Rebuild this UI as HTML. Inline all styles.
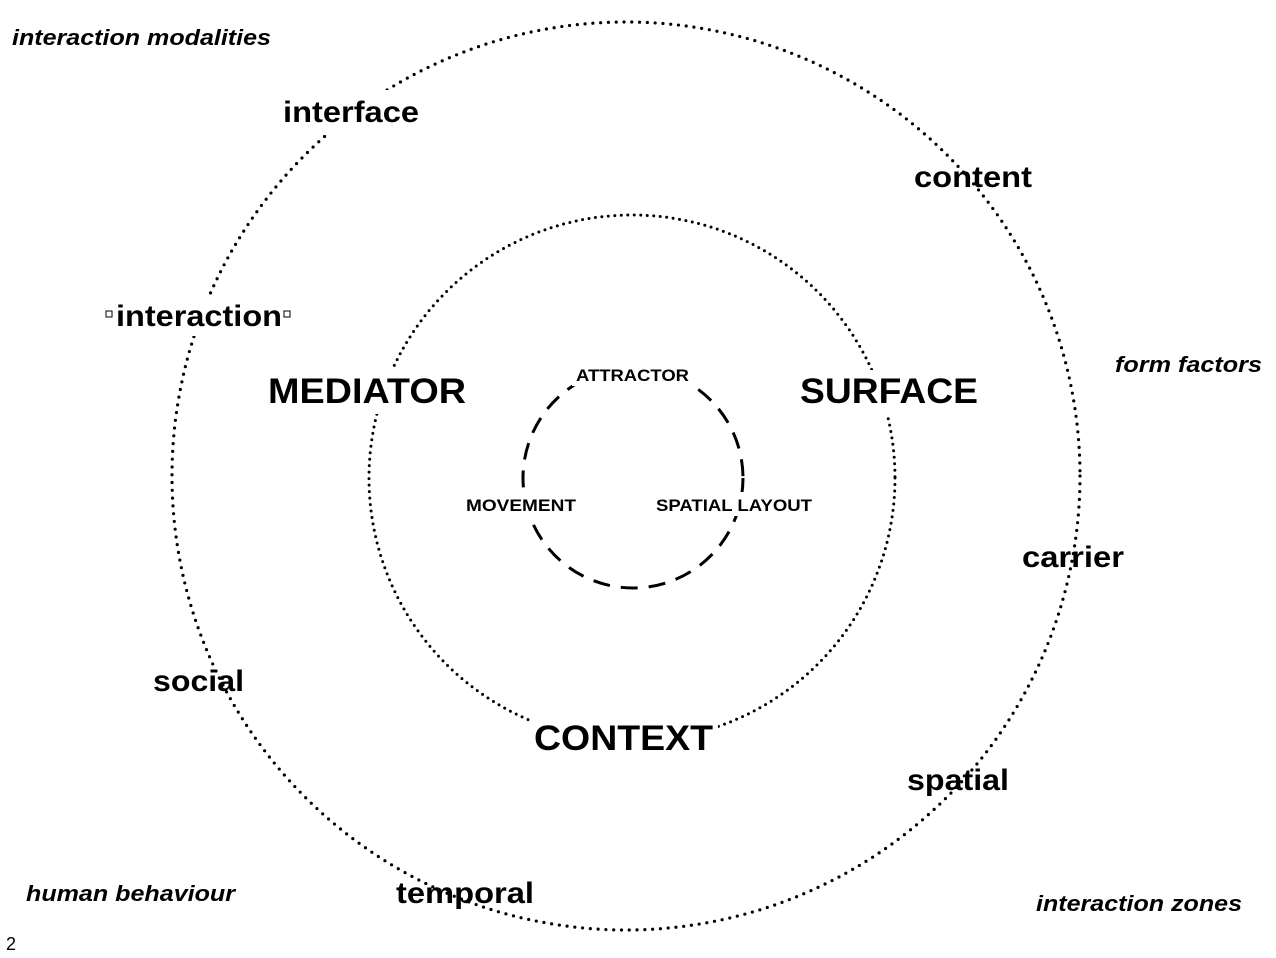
<!DOCTYPE html>
<html><head><style>
body{margin:0;background:#fff;}
svg{display:block;}
text{font-family:"Liberation Sans",Arial,sans-serif;font-weight:bold;fill:#000;}
</style></head><body>
<svg width="1276" height="958" viewBox="0 0 1276 958">
<circle cx="626" cy="476" r="454" fill="none" stroke="#000" stroke-width="3.2" stroke-linecap="round" stroke-dasharray="0 7.8"/>
<circle cx="632" cy="478" r="263" fill="none" stroke="#000" stroke-width="3" stroke-linecap="round" stroke-dasharray="0 6.5"/>
<circle cx="633" cy="478" r="110" fill="none" stroke="#000" stroke-width="3" stroke-dasharray="17 11"/>
<g fill="#fff">
<rect x="280" y="90" width="145" height="45"/>
<rect x="112" y="296" width="172" height="40"/>
<rect x="265" y="370" width="205" height="44"/>
<rect x="797" y="370" width="185" height="44"/>
<rect x="530" y="716" width="188" height="44"/>
<rect x="572" y="362" width="122" height="24"/>
<rect x="462" y="492" width="118" height="24"/>
<rect x="652" y="492" width="164" height="24"/>
</g>
<g font-size="22" font-style="italic">
<text x="12" y="45" textLength="259" lengthAdjust="spacingAndGlyphs">interaction modalities</text>
<text x="1115" y="372" textLength="147" lengthAdjust="spacingAndGlyphs">form factors</text>
<text x="26" y="901" textLength="209" lengthAdjust="spacingAndGlyphs">human behaviour</text>
<text x="1036" y="911" textLength="206" lengthAdjust="spacingAndGlyphs">interaction zones</text>
</g>
<g font-size="30">
<text x="283" y="122" textLength="136" lengthAdjust="spacingAndGlyphs">interface</text>
<text x="914" y="187" textLength="118" lengthAdjust="spacingAndGlyphs">content</text>
<text x="116" y="326" textLength="166" lengthAdjust="spacingAndGlyphs">interaction</text>
<text x="1022" y="567" textLength="102" lengthAdjust="spacingAndGlyphs">carrier</text>
<text x="153" y="691" textLength="91" lengthAdjust="spacingAndGlyphs">social</text>
<text x="907" y="790" textLength="102" lengthAdjust="spacingAndGlyphs">spatial</text>
<text x="396" y="903" textLength="138" lengthAdjust="spacingAndGlyphs">temporal</text>
</g>
<rect x="106" y="311" width="6" height="6" fill="#fff" stroke="#000" stroke-width="1"/>
<rect x="284" y="311" width="6" height="6" fill="#fff" stroke="#000" stroke-width="1"/>
<g font-size="35">
<text x="268" y="403" textLength="198" lengthAdjust="spacingAndGlyphs">MEDIATOR</text>
<text x="800" y="403" textLength="178" lengthAdjust="spacingAndGlyphs">SURFACE</text>
<text x="534" y="750" textLength="179" lengthAdjust="spacingAndGlyphs">CONTEXT</text>
</g>
<g font-size="17">
<text x="576" y="381" textLength="113" lengthAdjust="spacingAndGlyphs">ATTRACTOR</text>
<text x="466" y="511" textLength="110" lengthAdjust="spacingAndGlyphs">MOVEMENT</text>
<text x="656" y="511" textLength="156" lengthAdjust="spacingAndGlyphs">SPATIAL LAYOUT</text>
</g>
<text x="6" y="950" font-size="18" style="font-weight:normal">2</text>
</svg>
</body></html>
